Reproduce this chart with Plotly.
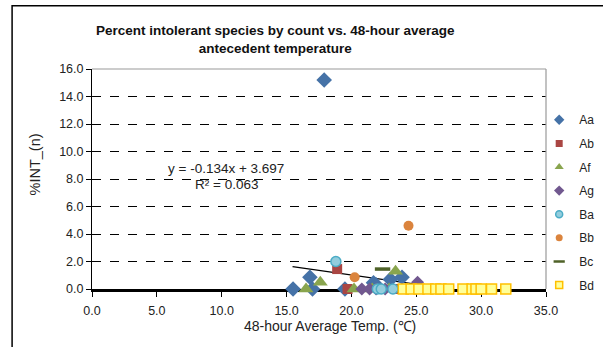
import plotly.graph_objects as go

# ---- data ----
aa_x = [15.5, 16.8, 17.0, 17.9, 19.5, 21.7, 21.9, 23.0, 23.9]
aa_y = [0.0, 0.85, 0.0, 15.2, 0.0, 0.45, 0.3, 0.7, 0.85]
ab_x = [18.9, 19.7, 23.4]
ab_y = [1.45, 0.0, 0.0]
af_x = [16.5, 17.6, 20.2, 21.6, 22.9, 23.4]
af_y = [0.0, 0.5, 0.0, 0.0, 0.0, 1.3]
ag_x = [20.8, 21.4, 21.9, 22.6, 25.1]
ag_y = [0.0, 0.0, 0.0, 0.0, 0.5]
ba_x = [18.8, 22.0, 22.3, 23.2]
ba_y = [2.0, 0.0, 0.0, 0.0]
bb_x = [20.25, 24.4]
bb_y = [0.85, 4.6]
bc_x = [22.4]
bc_y = [1.45]
bd_x = [24.0, 24.6, 25.2, 25.9, 26.5, 26.9, 27.5, 28.6, 29.3, 29.6, 30.0, 30.8, 31.9]
bd_y = [0.0] * len(bd_x)

trend_slope = -0.134
trend_intercept = 3.697
trend_r2 = 0.063
trend_x = [15.46, 28.0]

x_ticks = [0, 5, 10, 15, 20, 25, 30, 35]
y_ticks = [0, 2, 4, 6, 8, 10, 12, 14, 16]

series = [
    ("Aa", aa_x, aa_y, dict(symbol="diamond", color="#4572A7", size=12, line=dict(width=0)), 8),
    ("Ab", ab_x, ab_y, dict(symbol="square", color="#AA4643", size=10, line=dict(width=0)), 7),
    ("Af", af_x, af_y, dict(symbol="triangle-up", color="#89A54E", size=13, line=dict(width=0)), 8),
    ("Ag", ag_x, ag_y, dict(symbol="diamond", color="#71588F", size=10, line=dict(width=0)), 8),
    ("Ba", ba_x, ba_y, dict(symbol="circle", color="#93CDDD", size=10, line=dict(width=1.5, color="#4BACC6")), 7),
    ("Bb", bb_x, bb_y, dict(symbol="circle", color="#DB843D", size=10, line=dict(width=0)), 7),
    ("Bc", bc_x, bc_y, dict(symbol="line-ew", color="#4F6228", size=11, line=dict(width=3.5, color="#4F6228")), 8),
    ("Bd", bd_x, bd_y, dict(symbol="square", color="#FFFF99", size=10, line=dict(width=1.5, color="#FFC000")), 7),
]

fig = go.Figure()

# trendline from the stated equation
fig.add_trace(go.Scatter(
    x=trend_x, y=[trend_slope * v + trend_intercept for v in trend_x],
    mode="lines", line=dict(color="black", width=1.2),
    showlegend=False, hoverinfo="skip", cliponaxis=False))

for name, xs, ys, mk, lsize in series:
    fig.add_trace(go.Scatter(x=xs, y=ys, mode="markers", name=name, marker=mk,
                             showlegend=False, cliponaxis=False))

# legend-only entries with smaller symbols
for name, xs, ys, mk, lsize in series:
    lmk = dict(mk)
    lmk["size"] = lsize
    if name == "Bc":
        lmk["line"] = dict(width=2.5, color="#4F6228")
    fig.add_trace(go.Scatter(x=[None], y=[None], mode="markers", name=name,
                             marker=lmk, legendgroup=name))

fig.update_layout(
    width=603, height=347,
    margin=dict(l=92, r=57, t=69, b=58, autoexpand=False),
    paper_bgcolor="white", plot_bgcolor="white",
    font=dict(family="Liberation Sans, Arial, sans-serif", size=12, color="#222222"),
    showlegend=True,
    legend=dict(x=0.985, y=0.835, xanchor="left", yanchor="top",
                font=dict(size=12, color="#222222"),
                itemwidth=30, tracegroupgap=4.6, bgcolor="rgba(0,0,0,0)"),
    xaxis=dict(range=[0, 35], tickvals=x_ticks, tickformat=".1f", automargin=False,
               showgrid=False, zeroline=False,
               showline=True, linecolor="black", linewidth=2.5,
               ticks="outside", ticklen=5, tickcolor="black", ticklabelstandoff=3,
               tickfont=dict(size=12.5), layer="below traces"),
    yaxis=dict(range=[0, 16], tickvals=y_ticks, tickformat=".1f", automargin=False,
               showgrid=True, gridcolor="black", griddash="dash", gridwidth=1,
               zeroline=False, showline=True, linecolor="black", linewidth=1,
               ticks="outside", ticklen=5, tickcolor="black",
               tickfont=dict(size=12.5), layer="below traces"),
    shapes=[
        dict(type="line", xref="paper", yref="paper", x0=0, x1=1, y0=1, y1=1,
             line=dict(color="#999999", width=1.2)),
        dict(type="line", xref="paper", yref="paper", x0=1, x1=1, y0=0, y1=1,
             line=dict(color="#999999", width=1.2)),
        dict(type="rect", xref="paper", yref="paper", x0=-0.176, x1=1.3, y0=-0.4, y1=1.287,
             line=dict(color="black", width=1.5), fillcolor="rgba(0,0,0,0)"),
    ],
    annotations=[
        dict(text="<b>Percent intolerant species by count vs. 48-hour average<br>antecedent temperature</b>",
             xref="paper", yref="paper", x=0.405, y=1.133, xanchor="center", yanchor="middle",
             showarrow=False, font=dict(size=13.5, color="#111111")),
        dict(text="48-hour Average Temp. (℃)", xref="paper", yref="paper",
             x=0.524, y=-0.17, xanchor="center", yanchor="middle", showarrow=False,
             font=dict(size=14, color="#222222")),
        dict(text="%INT_(n)", xref="paper", yref="paper", x=-0.126, y=0.565,
             xanchor="center", yanchor="middle", textangle=-90, showarrow=False,
             font=dict(size=14.5, color="#222222")),
        dict(text=f"y = {trend_slope:.3f}x + {trend_intercept:.3f}", xref="x", yref="y",
             x=10.33, y=8.8, xanchor="center", yanchor="middle", showarrow=False,
             font=dict(size=13.5, color="#222222")),
        dict(text=f"R² = {trend_r2:.3f}", xref="x", yref="y",
             x=10.4, y=7.6, xanchor="center", yanchor="middle", showarrow=False,
             font=dict(size=13.5, color="#222222")),
    ],
)

fig.write_html("out.html", config={"displayModeBar": False},
               post_script="document.body.style.margin='0';")
